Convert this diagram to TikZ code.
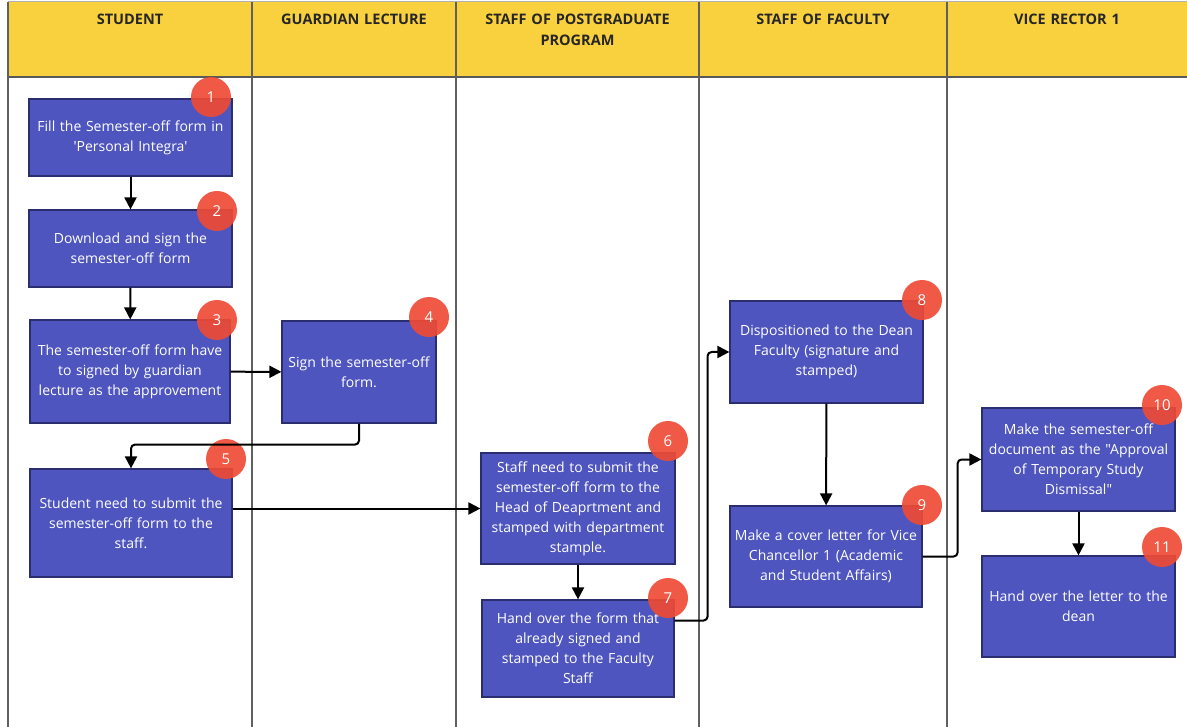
\documentclass[tikz,border=0pt]{standalone}
\usepackage{fontspec}
\setmainfont{Open Sans}[Ligatures=TeXOff]
\usepackage{tikz}
\usetikzlibrary{arrows.meta,positioning,calc}

\hyphenpenalty=10000
\exhyphenpenalty=10000

\definecolor{laneyellow}{HTML}{F9D13E}
\definecolor{stepblue}{HTML}{4F55BE}
\definecolor{stepedge}{HTML}{2A2D6E}
\definecolor{badgered}{HTML}{EE4B35}

\tikzset{
  lanehead/.style={anchor=north,align=center,text width=#1,font=\fontsize{14.5}{21}\selectfont\bfseries,text=black!85},
  stepbox/.style args={#1x#2}{draw=stepedge,line width=1.2pt,fill=stepblue,minimum width=#1,minimum height=#2,
    text width=#1,align=center,text=white,inner sep=0pt,font=\fontsize{14}{20}\selectfont},
  badge/.style={circle,fill=badgered,fill opacity=0.92,text opacity=1,text=white,minimum size=40pt,inner sep=0pt,
    font=\fontsize{15}{15}\selectfont},
  flow/.style={line width=2pt,rounded corners=4pt,-{Triangle[length=12pt,width=12pt]}}
}

\begin{document}
\begin{tikzpicture}[x=1pt,y=-1pt]
\useasboundingbox (0,0) rectangle (1187,727);
% lanes
\fill[laneyellow] (8,2) rectangle (1187,77);
\draw[gray!60,line width=1pt] (8,2) -- (1187,2);
\draw[gray!70!black,line width=1.2pt] (8,77) -- (1187,77);
\foreach \lx in {8,252,456,699,947}
  \draw[gray!75!black,line width=1.2pt] (\lx,2) -- (\lx,727);

\node[lanehead=220pt] (h1) at (130,10) {STUDENT};
\node[lanehead=220pt] (h2) at (354,10) {GUARDIAN LECTURE};
\node[lanehead=220pt] (h3) at (577.5,10) {STAFF OF POSTGRADUATE\\ PROGRAM};
\node[lanehead=220pt] (h4) at (823,10) {STAFF OF FACULTY};
\node[lanehead=220pt] (h5) at (1067,10) {VICE RECTOR 1};

% steps
\node[stepbox=203ptx77pt] (b1) at (130.5,137.5) {Fill the Semester-off form in\\ 'Personal Integra'};
\node[stepbox=203ptx77pt] (b2) at (130.5,248.5) {Download and sign the\\ semester-off form};
\node[stepbox=200ptx103pt] (b3) at (130,371.5) {The semester-off form have\\ to signed by guardian\\ lecture as the approvement};
\node[stepbox=154ptx102pt] (b4) at (359,372) {Sign the semester-off\\ form.};
\node[stepbox=202ptx108pt] (b5) at (131,523) {Student need to submit the\\ semester-off form to the\\ staff.};
\node[stepbox=194ptx111pt] (b6) at (578,508.5) {Staff need to submit the\\ semester-off form to the\\ Head of Deaprtment and\\ stamped with department\\ stample.};
\node[stepbox=192ptx97pt] (b7) at (578,648.5) {Hand over the form that\\ already signed and\\ stamped to the Faculty\\ Staff};
\node[stepbox=193ptx102pt] (b8) at (826.5,352) {Dispositioned to the Dean\\ Faculty (signature and\\ stamped)};
\node[stepbox=192ptx101pt] (b9) at (826,556.5) {Make a cover letter for Vice\\ Chancellor 1 (Academic\\ and Student Affairs)};
\node[stepbox=193ptx103pt] (b10) at (1078.5,459.5) {Make the semester-off\\ document as the "Approval\\ of Temporary Study\\ Dismissal"};
\node[stepbox=193ptx101pt] (b11) at (1078.5,606.5) {Hand over the letter to the\\ dean};

% numbers
\foreach \n/\bx/\by in {1/211/97, 2/217/211, 3/217/320, 4/429/317, 5/226/459, 6/668/441,
                        7/668/598, 8/922/300, 9/922/505, 10/1162/405, 11/1162/547}
  \node[badge] (n\n) at (\bx,\by) {\n};

% connectors
\draw[flow] (b1) -- (b2);
\draw[flow] (b2) -- (b3);
\draw[flow] (b3) -- (b4);
\draw[flow] (b4.south) -- ++(0,21) -| (b5.north);
\draw[flow] (b6.west -| b5.east) -- (b6.west);
\draw[flow] (b6) -- (b7);
\draw[flow] ([yshift=28pt]b7.east) -- ++(33,0) |- (b8.west);
\draw[flow] (b8) -- (b9);
\draw[flow] (b9.east) -- ++(35,0) |- (b10.west);
\draw[flow] (b10) -- (b11);
\end{tikzpicture}
\end{document}
